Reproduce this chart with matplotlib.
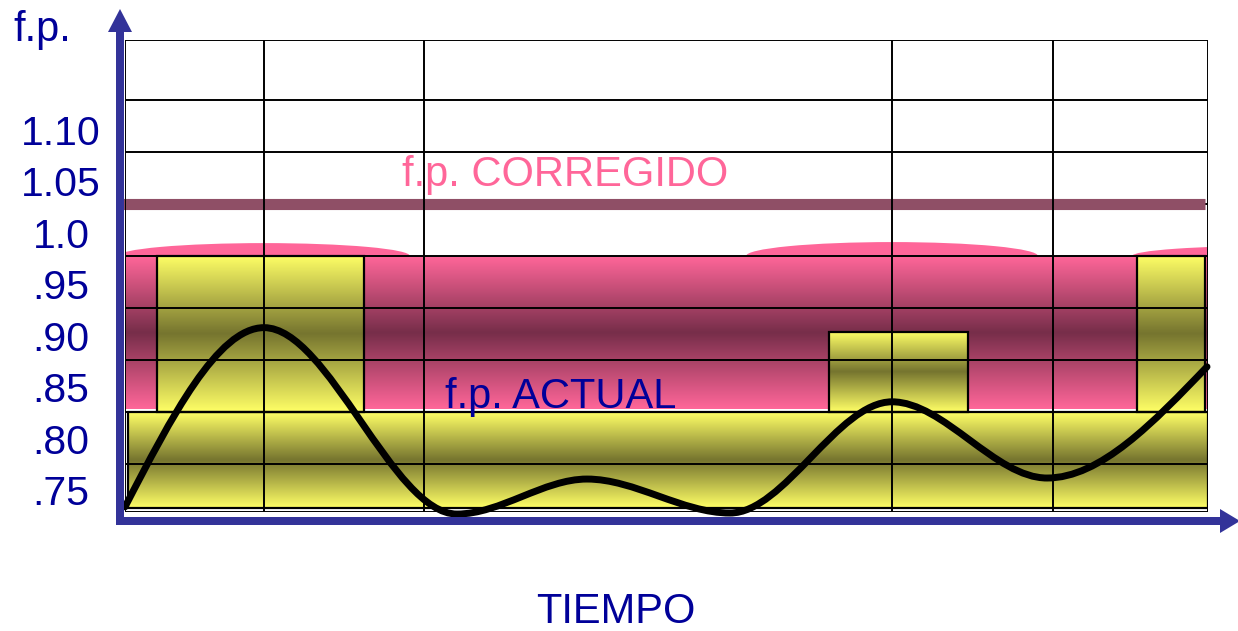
import numpy as np
import matplotlib
matplotlib.use("Agg")
from matplotlib import pyplot as plt
from matplotlib.colors import LinearSegmentedColormap
from matplotlib.patches import Rectangle, Ellipse, FancyArrow, PathPatch
from matplotlib.path import Path
from matplotlib.transforms import IdentityTransform, ScaledTranslation

plt.rcParams['font.family'] = ['Liberation Sans', 'DejaVu Sans']

# grid (time in arbitrary units, y in f.p.)
grid_t = [0, 139, 299, 767, 928, 1083]
grid_fp = [0.725, 0.7716, 0.822, 0.8726, 0.923, 0.9735, 1.024, 1.0745, 1.125, 1.1833]

tick_values = [0.75, 0.80, 0.85, 0.90, 0.95, 1.0, 1.05, 1.10]
tick_labels = ['.75', '.80', '.85', '.90', '.95', '1.0', '1.05', '1.10']

# corrected power factor line
fp_corregido = 1.024
corr_t = [-8, 1080]

# pink band (target zone) and its rounded tops
band_t = [0, 1083]
band_fp = [0.825, 0.9735]
arch_t = [139, 767, 1157]
arch_half = [146, 146, 150]
arch_h = [0.0126, 0.0136, 0.0101]

# yellow boxes
box_t0 = [3, 32, 704, 1012]
box_t1 = [1083, 239, 843, 1080]
box_lo = [0.7289, 0.822, 0.822, 0.822]
box_hi = [0.822, 0.9735, 0.8998, 0.9735]

# actual power factor curve: start, peaks / valleys, end
curve_t = [0, 139, 332, 462, 605, 767, 922, 1082]
curve_fp = [0.730, 0.904, 0.723, 0.757, 0.724, 0.832, 0.758, 0.866]

BLUE = "#000099"
AXIS_BLUE = "#333399"
PINK = "#ff6699"

pink_cmap = LinearSegmentedColormap.from_list("pink", ["#772e4a", "#ff6699"])
yellow_cmap = LinearSegmentedColormap.from_list("yellow", ["#76752f", "#ffff66"])
grad = np.abs(np.linspace(-1, 1, 256)).reshape(-1, 1)


def smooth_path(xs, ys):
    # bezier segments, flat at the turning points (like pchip)
    xs, ys = np.asarray(xs, float), np.asarray(ys, float)
    slope = np.zeros(len(xs))
    slope[0] = 1.5 * (ys[1] - ys[0]) / (xs[1] - xs[0])
    slope[-1] = 1.5 * (ys[-1] - ys[-2]) / (xs[-1] - xs[-2])
    verts, codes = [(xs[0], ys[0])], [Path.MOVETO]
    for i in range(len(xs) - 1):
        d = (xs[i + 1] - xs[i]) / 3
        verts += [(xs[i] + d, ys[i] + slope[i] * d),
                  (xs[i + 1] - d, ys[i + 1] - slope[i + 1] * d),
                  (xs[i + 1], ys[i + 1])]
        codes += [Path.CURVE4] * 3
    return Path(verts, codes)


fig = plt.figure(figsize=(12.38, 6.31), dpi=100)
ax = fig.add_axes([125/1238, 119/631, 1083/1238, 472/631])

# pink arches then band
for c, a, h in zip(arch_t, arch_half, arch_h):
    ax.add_patch(Ellipse((c, band_fp[1]), 2*a, 2*h, color=PINK, lw=0, zorder=1))
ax.imshow(grad, cmap=pink_cmap, extent=[band_t[0], band_t[1], band_fp[0], band_fp[1]],
          aspect='auto', origin='lower', interpolation='bilinear', zorder=2)

for x0, x1, y0, y1 in zip(box_t0, box_t1, box_lo, box_hi):
    ax.imshow(grad, cmap=yellow_cmap, extent=[x0, x1, y0, y1], aspect='auto',
              origin='lower', interpolation='bilinear', zorder=3)
    ax.add_patch(Rectangle((x0, y0), x1 - x0, y1 - y0, fill=False, ec='black',
                           lw=1.6, zorder=3.5))

for y in grid_fp:
    ax.axhline(y, color='black', lw=1.4, zorder=3.8)

ax.plot(corr_t, [fp_corregido]*2, color="#8f4f66", lw=8, solid_capstyle='butt',
        clip_on=False, zorder=4)

for x in grid_t:
    ax.axvline(x, color='black', lw=1.4, zorder=5)

ax.add_patch(PathPatch(smooth_path(curve_t, curve_fp), fill=False, ec='black',
                       lw=5, capstyle='round', joinstyle='round', clip_on=False,
                       zorder=6))

ax.set_xlim(0, 1083)
ax.set_ylim(grid_fp[0], grid_fp[-1])
ax.set_xticks([])
ax.set_yticks(tick_values)
ax.set_yticklabels(tick_labels)
ax.tick_params(axis='y', length=0, pad=46, labelsize=29.5, labelcolor=BLUE)
for lab in ax.get_yticklabels():
    lab.set_ha('center')
    lab.set_transform(lab.get_transform() + ScaledTranslation(0, -0.04, fig.dpi_scale_trans))
for s in ax.spines.values():
    s.set_visible(False)

ax.text(402 - 125, 1.0245 + 0.008, "f.p. CORREGIDO", color=PINK, fontsize=30,
        va='bottom', ha='left', zorder=7)
ax.text(445 - 125, 0.826, "f.p. ACTUAL", color=BLUE, fontsize=30,
        va='baseline', ha='left', zorder=7)

fig.text(13/1238, 1 - 41/631, "f.p.", color=BLUE, fontsize=30, va='baseline', ha='left')
fig.text(616/1238, 1 - 623/631, "TIEMPO", color=BLUE, fontsize=30, va='baseline', ha='center')

# axis arrows (pixel coordinates)
fig.add_artist(FancyArrow(120, 631 - 525, 0, 525 - 9, width=8, head_width=24,
                          head_length=23, length_includes_head=True,
                          color=AXIS_BLUE, lw=0, transform=IdentityTransform()))
fig.add_artist(FancyArrow(116, 631 - 521, 1240 - 116, 0, width=8, head_width=24,
                          head_length=20, length_includes_head=True,
                          color=AXIS_BLUE, lw=0, transform=IdentityTransform()))

fig.savefig("out.png", dpi=100)
